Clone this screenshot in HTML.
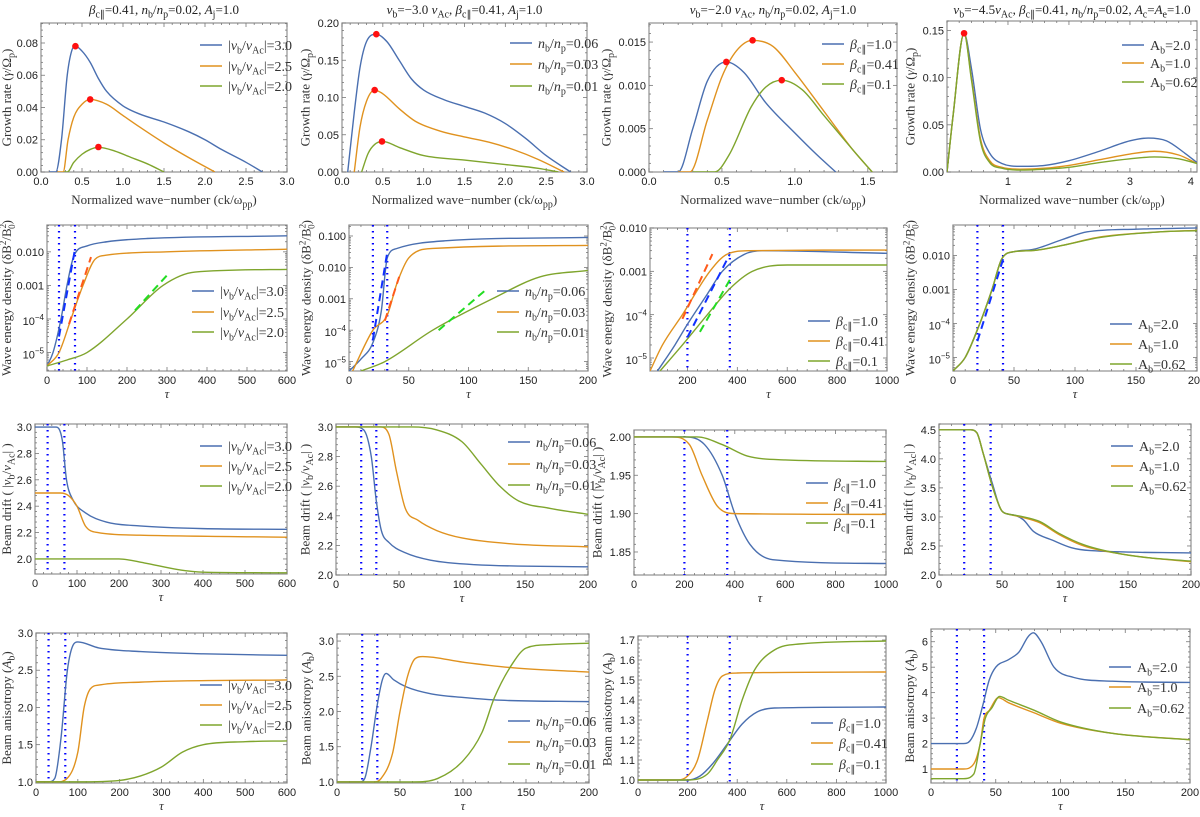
<!DOCTYPE html>
<html><head><meta charset="utf-8">
<style>
html,body{margin:0;padding:0;background:#fff;}
svg{display:block;}
.tk{font-family:"Liberation Sans",sans-serif;font-size:11px;fill:#222;}
.lb{font-family:"Liberation Serif",serif;font-size:13px;fill:#333;}
.lg{font-family:"Liberation Serif",serif;font-size:14px;fill:#333;}
.tt{font-family:"Liberation Serif",serif;font-size:13px;fill:#222;}
</style></head>
<body>
<svg id="fig" width="1200" height="817" viewBox="0 0 1200 817" xmlns="http://www.w3.org/2000/svg"></svg>
<script>
// ---------- DATA ----------
const g1Blue=[[0.1,0],[0.18,0],[0.25,0.02],[0.32,0.06],[0.38,0.076],[0.42,0.078],[0.5,0.075],[0.6,0.068],[0.7,0.058],[0.8,0.05],[1.0,0.041],[1.2,0.036],[1.5,0.031],[1.8,0.025],[2.0,0.02],[2.2,0.014],[2.5,0.006],[2.7,0]];
const g1Orange=[[0.2,0],[0.27,0],[0.33,0.02],[0.4,0.034],[0.5,0.042],[0.6,0.045],[0.8,0.042],[1.0,0.035],[1.2,0.028],[1.5,0.018],[1.8,0.009],[2.12,0]];
const g1Green=[[0.28,0],[0.32,0],[0.4,0.006],[0.5,0.011],[0.6,0.014],[0.7,0.0153],[0.9,0.013],[1.1,0.009],[1.3,0.005],[1.5,0]];
const g1Peaks=[[0.42,0.078],[0.6,0.045],[0.7,0.0155]];
const g2Blue=[[0.07,0],[0.15,0.08],[0.22,0.14],[0.3,0.175],[0.42,0.185],[0.55,0.175],[0.7,0.15],[0.85,0.125],[1.0,0.11],[1.25,0.097],[1.5,0.088],[1.75,0.079],[2.0,0.065],[2.25,0.045],[2.5,0.022],[2.8,0]];
const g2Orange=[[0.15,0],[0.22,0.06],[0.3,0.095],[0.4,0.11],[0.5,0.105],[0.7,0.085],[0.9,0.068],[1.2,0.055],[1.5,0.047],[1.8,0.04],[2.1,0.03],[2.4,0.017],[2.72,0]];
const g2Green=[[0.24,0],[0.32,0.025],[0.4,0.037],[0.5,0.041],[0.7,0.033],[1.0,0.022],[1.5,0.016],[2.0,0.01],[2.4,0.005],[2.65,0]];
const g2Peaks=[[0.42,0.185],[0.4,0.11],[0.49,0.041]];
const g3Blue=[[0.1,0],[0.2,0],[0.3,0.005],[0.4,0.0105],[0.53,0.0127],[0.65,0.0115],[0.8,0.008],[1.0,0.0045],[1.15,0.002],[1.28,0]];
const g3Orange=[[0.2,0],[0.28,0],[0.4,0.006],[0.5,0.011],[0.6,0.014],[0.71,0.0152],[0.85,0.0145],[1.0,0.0115],[1.2,0.007],[1.4,0.0025],[1.53,0]];
const g3Green=[[0.3,0],[0.45,0],[0.55,0.002],[0.7,0.0075],[0.8,0.0098],[0.91,0.0106],[1.05,0.0095],[1.2,0.0065],[1.4,0.0025],[1.53,0]];
const g3Peaks=[[0.53,0.0127],[0.71,0.0152],[0.91,0.0106]];
const g4Blue=[[0,0],[0.1,0.06],[0.28,0.147],[0.4,0.11],[0.55,0.045],[0.7,0.02],[0.9,0.009],[1.2,0.006],[1.6,0.007],[2.0,0.012],[2.5,0.022],[3.0,0.033],[3.3,0.036],[3.6,0.033],[3.9,0.02],[4.1,0.01]];
const g4Orange=[[0,0],[0.1,0.06],[0.28,0.147],[0.4,0.1],[0.55,0.035],[0.7,0.012],[0.9,0.005],[1.2,0.003],[1.6,0.004],[2.0,0.007],[2.5,0.013],[3.0,0.019],[3.4,0.022],[3.8,0.018],[4.1,0.009]];
const g4Green=[[0,0],[0.1,0.06],[0.28,0.147],[0.4,0.098],[0.55,0.032],[0.7,0.01],[0.9,0.004],[1.2,0.002],[1.6,0.003],[2.0,0.005],[2.5,0.01],[3.0,0.014],[3.4,0.016],[3.8,0.014],[4.1,0.009]];
const g4Peaks=[[0.28,0.147]];
const w1Blue=[[0,4e-6],[15,1e-5],[35,1e-4],[50,1e-3],[68,8e-3],[100,0.015],[150,0.02],[250,0.025],[600,0.03]];
const w1Orange=[[0,4e-6],[30,1e-5],[60,1e-4],[90,1e-3],[120,6e-3],[150,8e-3],[300,0.01],[600,0.012]];
const w1Green=[[0,4e-6],[50,6e-6],[100,1e-5],[200,1e-4],[290,1e-3],[370,2.5e-3],[600,3e-3]];
const w1Fits=[[[30,3e-5],[70,0.012]],[[55,7e-5],[110,7e-3]],[[220,1.8e-4],[300,2e-3]]];
const w2Blue=[[0,5e-6],[10,1.2e-5],[20,4e-5],[27,4e-4],[32,0.02],[40,0.04],[80,0.07],[200,0.09]];
const w2Orange=[[3,5e-6],[20,1e-4],[32,3e-4],[40,3e-3],[50,0.02],[70,0.04],[200,0.05]];
const w2Green=[[10,5e-6],[30,1e-5],[70,1e-4],[120,1e-3],[160,5e-3],[200,8e-3]];
const w2Fits=[[[20,5e-5],[32,0.03]],[[30,2e-4],[42,5e-3]],[[75,1e-4],[115,2e-3]]];
const w3Blue=[[80,5e-6],[150,2e-5],[200,6e-5],[280,3e-4],[340,1e-3],[430,2.5e-3],[500,3e-3],[1000,2.6e-3]];
const w3Orange=[[50,5e-6],[100,2e-5],[180,1e-4],[290,1e-3],[360,2.5e-3],[450,3e-3],[1000,3.1e-3]];
const w3Green=[[90,5e-6],[180,2e-5],[280,1e-4],[370,4e-4],[460,1e-3],[600,1.4e-3],[1000,1.4e-3]];
const w3Fits=[[[200,3e-5],[370,2.5e-3]],[[180,8e-5],[300,2.5e-3]],[[250,4e-5],[380,8e-4]]];
const w4Blue=[[0,4e-6],[10,1e-5],[22,1e-4],[32,1e-3],[40,8e-3],[50,0.013],[65,0.015],[90,0.03],[110,0.05],[150,0.06],[200,0.065]];
const w4Orange=[[0,4e-6],[10,1e-5],[22,1e-4],[32,1e-3],[40,8e-3],[50,0.013],[65,0.014],[90,0.02],[120,0.035],[170,0.05],[200,0.055]];
const w4Green=[[0,4e-6],[10,1e-5],[22,1e-4],[32,1e-3],[40,8e-3],[50,0.013],[65,0.014],[90,0.02],[120,0.034],[170,0.05],[200,0.054]];
const w4Fits=[[[20,3e-5],[42,0.01]]];
const d1Blue=[[0,3.0],[50,3.0],[65,2.9],[75,2.6],[90,2.45],[120,2.35],[170,2.28],[250,2.25],[400,2.23],[600,2.225]];
const d1Orange=[[0,2.5],[60,2.5],[80,2.48],[100,2.4],[120,2.25],[150,2.2],[250,2.18],[600,2.165]];
const d1Green=[[0,2.0],[200,2.0],[260,1.97],[340,1.92],[400,1.9],[600,1.895]];
const d2Blue=[[0,3.0],[15,3.0],[22,2.98],[28,2.8],[32,2.5],[36,2.3],[42,2.22],[55,2.15],[75,2.1],[110,2.07],[200,2.055]];
const d2Orange=[[0,3.0],[35,3.0],[42,2.95],[48,2.7],[55,2.45],[65,2.37],[80,2.3],[100,2.25],[140,2.21],[200,2.19]];
const d2Green=[[0,3.0],[60,3.0],[80,2.98],[100,2.9],[115,2.75],[130,2.6],[145,2.5],[170,2.45],[200,2.41]];
const d3Blue=[[0,2.0],[200,2.0],[280,1.99],[350,1.95],[400,1.9],[460,1.86],[550,1.84],[1000,1.835]];
const d3Orange=[[0,2.0],[150,2.0],[220,1.99],[270,1.95],[330,1.91],[400,1.9],[1000,1.899]];
const d3Green=[[0,2.0],[250,2.0],[350,1.99],[450,1.975],[600,1.97],[1000,1.968]];
const d4Blue=[[0,4.5],[25,4.5],[30,4.45],[35,4.1],[42,3.6],[50,3.1],[60,3.03],[67,2.95],[75,2.75],[90,2.6],[105,2.47],[120,2.42],[200,2.38]];
const d4Orange=[[0,4.5],[25,4.5],[30,4.45],[35,4.1],[42,3.55],[50,3.1],[55,3.05],[65,3.0],[80,2.9],[95,2.7],[115,2.5],[140,2.38],[165,2.3],[200,2.23]];
const d4Green=[[0,4.5],[25,4.5],[30,4.45],[35,4.1],[42,3.55],[50,3.1],[55,3.05],[65,3.01],[80,2.92],[95,2.72],[115,2.52],[140,2.38],[165,2.3],[200,2.24]];
const a1Blue=[[0,1.0],[30,1.0],[45,1.05],[60,1.6],[75,2.5],[90,2.85],[100,2.88],[150,2.8],[250,2.75],[400,2.72],[600,2.7]];
const a1Orange=[[0,1.0],[50,1.0],[75,1.05],[100,1.4],[115,2.0],[130,2.25],[150,2.3],[250,2.34],[600,2.37]];
const a1Green=[[0,1.0],[100,1.0],[200,1.02],[250,1.08],[300,1.2],[350,1.4],[400,1.5],[500,1.54],[600,1.55]];
const a2Blue=[[0,1.0],[18,1.0],[22,1.05],[27,1.5],[32,2.1],[36,2.45],[39,2.54],[45,2.45],[55,2.35],[75,2.25],[100,2.2],[130,2.16],[200,2.14]];
const a2Orange=[[0,1.0],[30,1.0],[35,1.05],[44,1.4],[50,2.0],[56,2.5],[62,2.75],[68,2.78],[100,2.7],[140,2.62],[200,2.56]];
const a2Green=[[0,1.0],[60,1.0],[80,1.05],[100,1.3],[115,1.7],[125,2.2],[140,2.7],[150,2.9],[170,2.95],[200,2.97]];
const a3Blue=[[0,1.0],[200,1.0],[250,1.02],[300,1.08],[360,1.18],[420,1.28],[480,1.34],[550,1.36],[1000,1.365]];
const a3Orange=[[0,1.0],[150,1.0],[200,1.02],[240,1.1],[280,1.3],[310,1.45],[340,1.52],[400,1.535],[1000,1.54]];
const a3Green=[[0,1.0],[200,1.0],[280,1.03],[320,1.1],[370,1.2],[420,1.4],[470,1.55],[550,1.65],[650,1.68],[1000,1.695]];
const a4Blue=[[0,2.0],[25,2.0],[30,2.1],[35,2.6],[40,3.5],[45,4.5],[50,5.0],[60,5.3],[68,5.6],[75,6.2],[79,6.35],[85,6.0],[95,5.0],[110,4.6],[140,4.45],[200,4.4]];
const a4Orange=[[0,1.0],[25,1.0],[33,1.2],[38,2.0],[41,3.0],[45,3.3],[52,3.8],[60,3.6],[80,3.2],[100,2.8],[140,2.4],[200,2.15]];
const a4Green=[[0,0.62],[25,0.62],[33,0.8],[38,2.0],[42,3.0],[47,3.4],[53,3.85],[60,3.7],[80,3.3],[100,2.85],[140,2.4],[200,2.15]];

// ---------- LABEL MARKUP ----------
const ZW='\u200b';
const sub=(t)=>`<tspan dy="3.5" font-size="10">${t}</tspan><tspan dy="-3.5">${ZW}</tspan>`;
const sup=(t)=>`<tspan dy="-5" font-size="9">${t}</tspan><tspan dy="5">${ZW}</tspan>`;
const supsub=(a,b)=>`<tspan dy="-5" font-size="9">${a}</tspan><tspan dx="-5" dy="9" font-size="9">${b}</tspan><tspan dy="-4">${ZW}</tspan>`;
const it=(t)=>`<tspan font-style="italic">${t}</tspan>`;
const vbL=(v)=>`|${it('v')}${sub('b')}/${it('v')}${sub('Ac')}|=${v}`;
const nbL=(v)=>`${it('n')}${sub('b')}/${it('n')}${sub('p')}=${v}`;
const beL=(v)=>`${it('β')}${sub('c∥')}=${v}`;
const abL=(v)=>`A${sub('b')}=${v}`;
const C=['#4a6fb0','#e0921f','#7fa52d'];
const yG=`Growth rate  (${it('γ')}/Ω${sub('p')})`;
const yW=`Wave energy density (δB${sup('2')}/B${supsub('2','0')})`;
const yD=`Beam drift ( |${it('v')}${sub('b')}/${it('v')}${sub('Ac')}| )`;
const yA=`Beam anisotropy (${it('A')}${sub('b')})`;
const xK=`Normalized wave−number (ck/ω${sub('pp')})`;
const xT=it('τ');
const lv=[vbL('3.0'),vbL('2.5'),vbL('2.0')], ln=[nbL('0.06'),nbL('0.03'),nbL('0.01')], lb=[beL('1.0'),beL('0.41'),beL('0.1')], la=[abL('2.0'),abL('1.0'),abL('0.62')];
const logT=[0.1,0.01,0.001,1e-4,1e-5], logL=['0.100','0.010','0.001','10^-4','10^-5'];

const panels=[
 {n:'growth-vb',box:[41,23,287,172],xr:[0,3],yr:[0,0.0924],xt:[0,0.5,1,1.5,2,2.5,3],xl:['0.0','0.5','1.0','1.5','2.0','2.5','3.0'],yt:[0,0.02,0.04,0.06,0.08],yl:['0.00','0.02','0.04','0.06','0.08'],s:[g1Blue,g1Orange,g1Green],dots:g1Peaks,leg:[200,[49,70,90]],labels:lv,ylab:yG,xlab:xK,title:`${it('β')}${sub('c∥')}=0.41, ${it('n')}${sub('b')}/${it('n')}${sub('p')}=0.02, ${it('A')}${sub('j')}=1.0`},
 {n:'growth-nb',box:[342,23,587,172],xr:[0,3],yr:[0,0.2],xt:[0,0.5,1,1.5,2,2.5,3],xl:['0.0','0.5','1.0','1.5','2.0','2.5','3.0'],yt:[0,0.05,0.1,0.15,0.2],yl:['0.00','0.05','0.10','0.15','0.20'],s:[g2Blue,g2Orange,g2Green],dots:g2Peaks,leg:[510,[47,68,90]],labels:ln,ylab:yG,xlab:xK,title:`${it('v')}${sub('b')}=−3.0 ${it('v')}${sub('Ac')}, ${it('β')}${sub('c∥')}=0.41, ${it('A')}${sub('j')}=1.0`},
 {n:'growth-beta',box:[649,23,897,172],xr:[0,1.7],yr:[0,0.0172],xt:[0,0.5,1,1.5],xl:['0.0','0.5','1.0','1.5'],yt:[0,0.005,0.01,0.015],yl:['0.000','0.005','0.010','0.015'],s:[g3Blue,g3Orange,g3Green],dots:g3Peaks,leg:[822,[48,68,88]],labels:lb,ylab:yG,xlab:xK,title:`${it('v')}${sub('b')}=−2.0 ${it('v')}${sub('Ac')}, ${it('n')}${sub('b')}/${it('n')}${sub('p')}=0.02, ${it('A')}${sub('j')}=1.0`},
 {n:'growth-ab',box:[947,21,1197,172],xr:[0,4.1],yr:[0,0.16],xt:[1,2,3,4],xl:['1','2','3','4'],yt:[0,0.05,0.1,0.15],yl:['0.00','0.05','0.10','0.15'],s:[g4Blue,g4Orange,g4Green],dots:g4Peaks,leg:[1122,[49,67,86]],labels:la,ylab:yG,xlab:xK,title:`${it('v')}${sub('b')}=−4.5${it('v')}${sub('Ac')}, ${it('β')}${sub('c∥')}=0.41, ${it('n')}${sub('b')}/${it('n')}${sub('p')}=0.02, ${it('A')}${sub('c')}=${it('A')}${sub('e')}=1.0`},

 {n:'energy-vb',box:[47,225,287,371],log:1,xr:[0,600],yr:[-5.55,-1.2],xt:[0,100,200,300,400,500,600],yt:logT.slice(1),yl:logL.slice(1),s:[w1Blue,w1Orange,w1Green],fits:w1Fits,vl:[30,70],leg:[192,[295,316,336]],labels:lv,ylab:yW,xlab:xT},
 {n:'energy-nb',box:[349,225,588,371],log:1,xr:[0,200],yr:[-5.3,-0.65],xt:[0,50,100,150,200],yt:logT,yl:logL,s:[w2Blue,w2Orange,w2Green],fits:w2Fits,vl:[20,32],leg:[497,[295,316,336]],labels:ln,ylab:yW,xlab:xT},
 {n:'energy-beta',box:[650,228,887,371],log:1,xr:[50,1000],yr:[-5.3,-2],xt:[200,400,600,800,1000],yt:logT.slice(1),yl:logL.slice(1),s:[w3Blue,w3Orange,w3Green],fits:w3Fits,vl:[200,370],leg:[808,[325,345,365]],labels:lb,ylab:yW,xlab:xT},
 {n:'energy-ab',box:[953,225,1197,371],log:1,xr:[0,200],yr:[-5.4,-1.1],xt:[0,50,100,150,200],yt:logT.slice(1),yl:logL.slice(1),s:[w4Blue,w4Orange,w4Green],fits:w4Fits,vl:[20,41],leg:[1110,[328,348,368]],labels:la,ylab:yW,xlab:xT},

 {n:'drift-vb',box:[35,424,287,574],xr:[0,600],yr:[1.886,3.023],xt:[0,100,200,300,400,500,600],yt:[2,2.2,2.4,2.6,2.8,3],yl:['2.0','2.2','2.4','2.6','2.8','3.0'],s:[d1Blue,d1Orange,d1Green],vl:[30,70],leg:[200,[450,470,490]],labels:lv,ylab:yD,xlab:xT},
 {n:'drift-nb',box:[336,424,588,575],xr:[0,200],yr:[2,3.02],xt:[0,50,100,150,200],yt:[2,2.2,2.4,2.6,2.8,3],yl:['2.0','2.2','2.4','2.6','2.8','3.0'],s:[d2Blue,d2Orange,d2Green],vl:[20,32],leg:[508,[446,468,489]],labels:ln,ylab:yD,xlab:xT},
 {n:'drift-beta',box:[634,430,886,575],xr:[0,1000],yr:[1.82,2.009],xt:[0,200,400,600,800,1000],yt:[1.85,1.9,1.95,2],yl:['1.85','1.90','1.95','2.00'],s:[d3Blue,d3Orange,d3Green],vl:[200,370],leg:[806,[487,507,527]],labels:lb,ylab:yD,xlab:xT},
 {n:'drift-ab',box:[939,424,1191,575],xr:[0,200],yr:[2,4.6],xt:[0,50,100,150,200],yt:[2,2.5,3,3.5,4,4.5],yl:['2.0','2.5','3.0','3.5','4.0','4.5'],s:[d4Blue,d4Orange,d4Green],vl:[20,41],leg:[1111,[450,470,490]],labels:la,ylab:yD,xlab:xT},

 {n:'aniso-vb',box:[36,633,287,783],xr:[0,600],yr:[0.985,3.0],xt:[0,100,200,300,400,500,600],yt:[1,1.5,2,2.5,3],yl:['1.0','1.5','2.0','2.5','3.0'],s:[a1Blue,a1Orange,a1Green],vl:[30,70],leg:[200,[689,709,729]],labels:lv,ylab:yA,xlab:xT},
 {n:'aniso-nb',box:[337,634,589,783],xr:[0,200],yr:[0.985,3.1],xt:[0,50,100,150,200],yt:[1,1.5,2,2.5,3],yl:['1.0','1.5','2.0','2.5','3.0'],s:[a2Blue,a2Orange,a2Green],vl:[20,32],leg:[508,[725,746,768]],labels:ln,ylab:yA,xlab:xT},
 {n:'aniso-beta',box:[638,636,886,783],xr:[0,1000],yr:[0.985,1.72],xt:[0,200,400,600,800,1000],yt:[1,1.1,1.2,1.3,1.4,1.5,1.6,1.7],yl:['1.0','1.1','1.2','1.3','1.4','1.5','1.6','1.7'],s:[a3Blue,a3Orange,a3Green],vl:[200,370],leg:[811,[727,747,768]],labels:lb,ylab:yA,xlab:xT},
 {n:'aniso-ab',box:[931,629,1190,783],xr:[0,200],yr:[0.45,6.5],xt:[0,50,100,150,200],yt:[1,2,3,4,5,6],yl:['1','2','3','4','5','6'],s:[a4Blue,a4Orange,a4Green],vl:[20,41],leg:[1109,[671,691,712]],labels:la,ylab:yA,xlab:xT}
];

// ---------- RENDER ----------
const svg=document.getElementById('fig');
const NS='http://www.w3.org/2000/svg';
function mk(tag,attrs,parent){const e=document.createElementNS(NS,tag);for(const k in attrs)e.setAttribute(k,attrs[k]);(parent||svg).appendChild(e);return e;}
function mono(p){
 const n=p.length;if(n<2)return '';
 const m=[],t=[];
 for(let i=0;i<n-1;i++){const dx=p[i+1][0]-p[i][0];m.push(dx===0?0:(p[i+1][1]-p[i][1])/dx);}
 t[0]=m[0];t[n-1]=m[n-2];
 for(let i=1;i<n-1;i++)t[i]=(m[i-1]*m[i]<=0)?0:(m[i-1]+m[i])/2;
 for(let i=0;i<n-1;i++){if(m[i]===0){t[i]=0;t[i+1]=0;continue;}const a=t[i]/m[i],b=t[i+1]/m[i],s=a*a+b*b;if(s>9){const tau=3/Math.sqrt(s);t[i]=tau*a*m[i];t[i+1]=tau*b*m[i];}}
 let d=`M${p[0][0].toFixed(2)},${p[0][1].toFixed(2)}`;
 for(let i=0;i<n-1;i++){const dx=(p[i+1][0]-p[i][0])/3;d+=` C${(p[i][0]+dx).toFixed(2)},${(p[i][1]+t[i]*dx).toFixed(2)} ${(p[i+1][0]-dx).toFixed(2)},${(p[i+1][1]-t[i+1]*dx).toFixed(2)} ${p[i+1][0].toFixed(2)},${p[i+1][1].toFixed(2)}`;}
 return d;
}
function logLabel(s,g,x,y){
 const el=mk('text',{x:x,y:y,'text-anchor':'end',class:'tk'},g);
 
 
 if(s.startsWith('10^')){el.innerHTML=`10<tspan dy="-5" font-size="8">${s.slice(3).replace('-','−')}</tspan>`;el.setAttribute('y',y+2);}else el.textContent=s;
 return el;
}
panels.forEach((P,pi)=>{
 const [x0,y0,x1,y1]=P.box;
 const g=mk('g',{});
 
 
 const sx=v=>x0+(v-P.xr[0])/(P.xr[1]-P.xr[0])*(x1-x0);
 const sy=v=>{const vv=P.log?Math.log10(v):v;return y1-(vv-P.yr[0])/(P.yr[1]-P.yr[0])*(y1-y0);};
 const cid='clip'+pi;
 const cp=mk('clipPath',{id:cid},g);mk('rect',{x:x0,y:y0,width:x1-x0,height:y1-y0},cp);
 const fr=mk('rect',{x:x0,y:y0,width:x1-x0,height:y1-y0,fill:'none',stroke:'#999','stroke-width':1.3},g);
 
 
 const xstep=(P.xt.length>1)?(P.xt[1]-P.xt[0]):1;
 for(let v=P.xt[0]-xstep;v<=P.xr[1]+1e-9;v+=xstep/5){
  if(v<P.xr[0]-1e-9)continue;
  const X=sx(v);const major=P.xt.some(t=>Math.abs(t-v)<1e-6);const L=major?4:2;
  mk('line',{x1:X,y1:y1,x2:X,y2:y1-L,stroke:'#777','stroke-width':0.8},g);
  mk('line',{x1:X,y1:y0,x2:X,y2:y0+L,stroke:'#777','stroke-width':0.8},g);
 }
 P.xt.forEach((v,i)=>{
  const t=mk('text',{x:sx(v),y:y1+13,'text-anchor':'middle',class:'tk'},g);
  
  
  t.textContent=P.xl?P.xl[i]:String(v);
 });
 if(P.log){
  for(let e=Math.floor(P.yr[0]);e<=Math.ceil(P.yr[1]);e++){
   for(let k=1;k<10;k++){const v=k*Math.pow(10,e);const lv=Math.log10(v);if(lv<P.yr[0]||lv>P.yr[1])continue;const Y=sy(v);const L=k===1?4:2;
    mk('line',{x1:x0,y1:Y,x2:x0+L,y2:Y,stroke:'#777','stroke-width':0.8},g);mk('line',{x1:x1,y1:Y,x2:x1-L,y2:Y,stroke:'#777','stroke-width':0.8},g);}
  }
 } else {
  const ystep=P.yt[1]-P.yt[0];
  for(let v=P.yt[0]-ystep*4;v<=P.yr[1]+1e-9;v+=ystep/5){
   if(v<P.yr[0]-1e-9)continue;const Y=sy(v);const major=P.yt.some(t=>Math.abs(t-v)<1e-9);const L=major?4:2;
   mk('line',{x1:x0,y1:Y,x2:x0+L,y2:Y,stroke:'#777','stroke-width':0.8},g);mk('line',{x1:x1,y1:Y,x2:x1-L,y2:Y,stroke:'#777','stroke-width':0.8},g);
  }
 }
 let maxW=0;
 P.yt.forEach((v,i)=>{
  const lbl=P.yl[i];
  let t;
  if(P.log){t=logLabel(lbl,g,x0-3,sy(v)+4);}
  else{t=mk('text',{x:x0-3,y:sy(v)+4,'text-anchor':'end',class:'tk'},g);
   
   
   t.textContent=lbl;}
  const w=t.getComputedTextLength();if(w>maxW)maxW=w;
 });
 const cy=(y0+y1)/2;
 const yoff=3+maxW+8;
 const yl=mk('text',{x:0,y:0,transform:`translate(${Math.max(11,x0-yoff)},${cy}) rotate(-90)`,'text-anchor':'middle',class:'lb'},g);
 
 
 yl.innerHTML=P.ylab;
 const xl=mk('text',{x:(x0+x1)/2,y:y1+(P.xlab===xT?27:32),'text-anchor':'middle',class:'lb'},g);
 
 
 xl.innerHTML=P.xlab;
 if(P.title){const tt=mk('text',{x:(x0+x1)/2,y:14,'text-anchor':'middle',class:'tt'},g);
  
  
  tt.innerHTML=P.title;}
 const pg=mk('g',{'clip-path':`url(#${cid})`},g);
 (P.vl||[]).forEach(v=>{const l=mk('line',{x1:sx(v),y1:y0,x2:sx(v),y2:y1,stroke:'#0000ff','stroke-width':2.2,'stroke-dasharray':'1.5,4.5'},pg);
  
  });
 P.s.forEach((d,si)=>{
  const pts=d.map(q=>[sx(q[0]),sy(q[1])]);
  const p=mk('path',{d:mono(pts),fill:'none',stroke:C[si],'stroke-width':1.4},pg);
  
  
 });
 const FC=['#1030ff','#ff5a1a','#22dd22'];
 (P.fits||[]).forEach((f,fi)=>{const l=mk('line',{x1:sx(f[0][0]),y1:sy(f[0][1]),x2:sx(f[1][0]),y2:sy(f[1][1]),stroke:FC[fi],'stroke-width':2,'stroke-dasharray':'8,5'},pg);
  
  });
 (P.dots||[]).forEach(q=>{const c=mk('circle',{cx:sx(q[0]),cy:sy(q[1]),r:3.3,fill:'#ff1010'},g);
  
  });
 const [lx,lys]=P.leg;
 lys.forEach((ly,i)=>{
  const lg=mk('g',{},g);
  
  
  mk('line',{x1:lx,y1:ly-4,x2:lx+22,y2:ly-4,stroke:C[i],'stroke-width':1.6},lg);
  const t=mk('text',{x:lx+28,y:ly+1,class:'lg'},lg);
  t.innerHTML=P.labels[i];
 });
});
</script>
</body></html>
